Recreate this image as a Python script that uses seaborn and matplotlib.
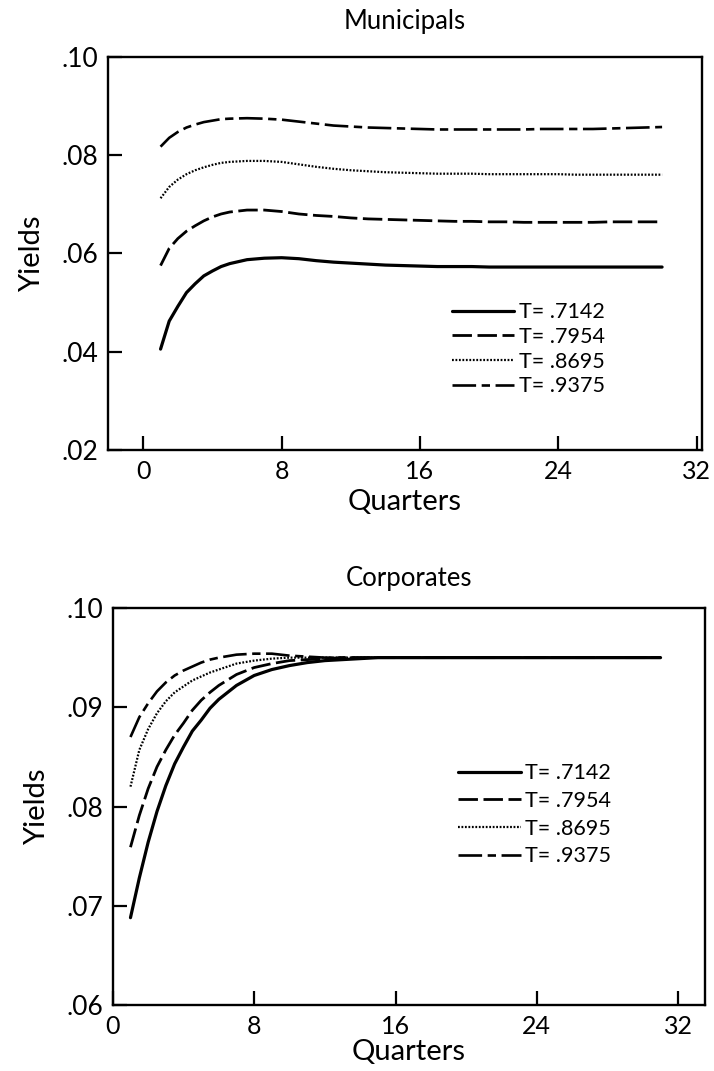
import pandas as pd
import seaborn as sns
import matplotlib.pyplot as plt

# quarters on the horizontal axis (half quarters read where the curves bend fast)
muni_quarters = [1, 1.5, 2, 2.5, 3, 3.5, 4, 4.5, 5, 6, 7, 8, 9, 10, 11, 12, 13, 14, 15, 16,
                 17, 18, 19, 20, 21, 22, 23, 24, 25, 26, 27, 28, 29, 30]
corp_quarters = [1, 1.5, 2, 2.5, 3, 3.5, 4, 4.5, 5, 5.5, 6, 7, 8, 9, 10, 11, 12, 13, 14, 15,
                 16, 17, 18, 19, 20, 21, 22, 23, 24, 25, 26, 27, 28, 29, 30, 31]

labels = ["T= .7142", "T= .7954", "T= .8695", "T= .9375"]

# Municipals yields
muni_7142 = [0.0405, 0.0462, 0.0492, 0.0520, 0.0538, 0.0554, 0.0564, 0.0573, 0.0579,
             0.0587, 0.0590, 0.0591, 0.0589, 0.0585, 0.0582, 0.0580, 0.0578, 0.0576, 0.0575,
             0.0574, 0.0573, 0.0573, 0.0573, 0.0572, 0.0572, 0.0572, 0.0572, 0.0572, 0.0572,
             0.0572, 0.0572, 0.0572, 0.0572, 0.0572]
muni_7954 = [0.0575, 0.0610, 0.0630, 0.0645, 0.0656, 0.0666, 0.0674, 0.0680, 0.0684,
             0.0688, 0.0688, 0.0685, 0.0680, 0.0677, 0.0675, 0.0672, 0.0670, 0.0669, 0.0668,
             0.0667, 0.0666, 0.0665, 0.0665, 0.0664, 0.0664, 0.0663, 0.0663, 0.0663, 0.0663,
             0.0663, 0.0664, 0.0664, 0.0664, 0.0664]
muni_8695 = [0.0712, 0.0735, 0.0750, 0.0761, 0.0769, 0.0775, 0.0780, 0.0784, 0.0786,
             0.0788, 0.0788, 0.0786, 0.0781, 0.0776, 0.0772, 0.0769, 0.0767, 0.0765, 0.0764,
             0.0763, 0.0762, 0.0762, 0.0762, 0.0761, 0.0761, 0.0761, 0.0761, 0.0761, 0.0760,
             0.0760, 0.0760, 0.0760, 0.0760, 0.0760]
muni_9375 = [0.0817, 0.0835, 0.0847, 0.0856, 0.0862, 0.0867, 0.0870, 0.0873, 0.0874,
             0.0875, 0.0874, 0.0872, 0.0868, 0.0864, 0.0860, 0.0858, 0.0856, 0.0855, 0.0854,
             0.0853, 0.0852, 0.0852, 0.0852, 0.0852, 0.0852, 0.0852, 0.0853, 0.0853, 0.0853,
             0.0853, 0.0854, 0.0855, 0.0856, 0.0857]

# Corporates yields
corp_7142 = [0.0688, 0.0728, 0.0764, 0.0795, 0.0821, 0.0843, 0.0860, 0.0876, 0.0887, 0.0899,
             0.0908, 0.0922, 0.0932, 0.0938, 0.0942, 0.0945, 0.0947, 0.0948, 0.0949, 0.0950,
             0.0950, 0.0950, 0.0950, 0.0950, 0.0950, 0.0950, 0.0950, 0.0950, 0.0950, 0.0950,
             0.0950, 0.0950, 0.0950, 0.0950, 0.0950, 0.0950]
corp_7954 = [0.0759, 0.0791, 0.0818, 0.0840, 0.0857, 0.0872, 0.0884, 0.0897, 0.0907, 0.0915,
             0.0922, 0.0933, 0.0940, 0.0944, 0.0947, 0.0948, 0.0949, 0.0950, 0.0950, 0.0950,
             0.0950, 0.0950, 0.0950, 0.0950, 0.0950, 0.0950, 0.0950, 0.0950, 0.0950, 0.0950,
             0.0950, 0.0950, 0.0950, 0.0950, 0.0950, 0.0950]
corp_8695 = [0.0820, 0.0857, 0.0878, 0.0894, 0.0906, 0.0915, 0.0921, 0.0927, 0.0931, 0.0935,
             0.0938, 0.0944, 0.0947, 0.0949, 0.0950, 0.0950, 0.0950, 0.0950, 0.0950, 0.0950,
             0.0950, 0.0950, 0.0950, 0.0950, 0.0950, 0.0950, 0.0950, 0.0950, 0.0950, 0.0950,
             0.0950, 0.0950, 0.0950, 0.0950, 0.0950, 0.0950]
corp_9375 = [0.0870, 0.0890, 0.0904, 0.0916, 0.0925, 0.0932, 0.0937, 0.0941, 0.0945, 0.0948,
             0.0950, 0.0953, 0.0954, 0.0954, 0.0952, 0.0951, 0.0950, 0.0950, 0.0950, 0.0950,
             0.0950, 0.0950, 0.0950, 0.0950, 0.0950, 0.0950, 0.0950, 0.0950, 0.0950, 0.0950,
             0.0950, 0.0950, 0.0950, 0.0950, 0.0950, 0.0950]

x_ticks = [0, 8, 16, 24, 32]
muni_yticks = [0.02, 0.04, 0.06, 0.08, 0.10]
muni_ylabels = [".02", ".04", ".06", ".08", ".10"]
corp_yticks = [0.06, 0.07, 0.08, 0.09, 0.10]
corp_ylabels = [".06", ".07", ".08", ".09", ".10"]

sns.set_style("ticks")
plt.rcParams['font.family'] = ['Lato', 'DejaVu Sans']
plt.rcParams['lines.scale_dashes'] = False
plt.rcParams['text.color'] = 'black'
plt.rcParams['axes.labelcolor'] = 'black'
plt.rcParams['xtick.color'] = 'black'
plt.rcParams['ytick.color'] = 'black'

# solid, long dash, dotted, dash-dot
line_styles = ['-', (0, (14, 4)), (0, (1.3, 1.2)), (0, (17, 4, 6, 4))]
line_widths = [2.3, 2.0, 1.6, 1.9]


def draw_panel(ax, quarters, series, title, xlim, ylim, yticks, ylabels,
               legend_anchor, spacing, title_pad, xlab_pad):
    for vals, lab, ls, lw in zip(series, labels, line_styles, line_widths):
        sns.lineplot(x=quarters, y=vals, ax=ax, color='black', linestyle=ls,
                     linewidth=lw, label=lab)
    ax.set_xlim(*xlim)
    ax.set_ylim(*ylim)
    ax.set_xticks(x_ticks)
    ax.set_xticklabels([str(t) for t in x_ticks])
    ax.set_yticks(yticks)
    ax.set_yticklabels(ylabels)
    ax.tick_params(direction='in', length=10, width=1.6, pad=7, top=False, right=False)
    ax.tick_params(axis='x', labelsize=18)
    ax.tick_params(axis='y', labelsize=19)
    for sp in ax.spines.values():
        sp.set_linewidth(1.7)
        sp.set_color('black')
    ax.set_title(title, fontsize=18.5, pad=title_pad)
    ax.set_xlabel("Quarters", fontsize=21, labelpad=xlab_pad)
    ax.set_ylabel("Yields", fontsize=21, labelpad=12)
    ax.legend(loc='center left', bbox_to_anchor=legend_anchor, frameon=False,
              fontsize=15.5, handlelength=2.9, handletextpad=0.2, labelspacing=spacing,
              borderaxespad=0)


fig = plt.figure(figsize=(7.14, 10.71), dpi=100)
ax1 = fig.add_axes([0.151, 0.580, 0.832, 0.367])
ax2 = fig.add_axes([0.158, 0.0616, 0.829, 0.3707])

draw_panel(ax1, muni_quarters, [muni_7142, muni_7954, muni_8695, muni_9375],
           "Municipals", (-2.05, 32.3), (0.02, 0.10), muni_yticks, muni_ylabels,
           (0.565, 0.256), 0.22, 20, 5)
draw_panel(ax2, corp_quarters, [corp_7142, corp_7954, corp_8695, corp_9375],
           "Corporates", (0, 33.5), (0.06, 0.10), corp_yticks, corp_ylabels,
           (0.569, 0.479), 0.36, 16, 1)

fig.savefig("out.png", dpi=100)
